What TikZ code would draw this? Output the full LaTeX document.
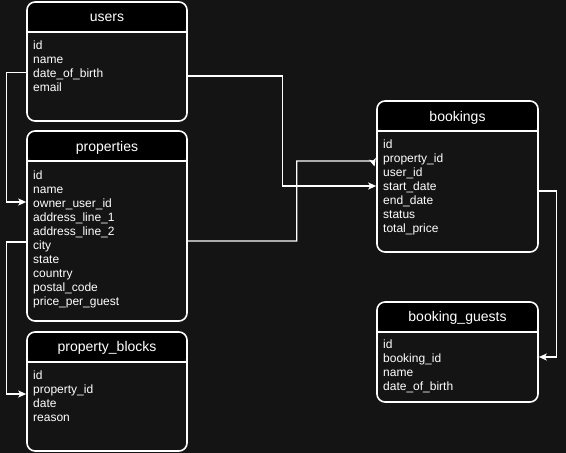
\documentclass[tikz,border=0pt]{standalone}
\usepackage{fontspec}
\setmainfont{Liberation Sans}
\usetikzlibrary{arrows.meta}
\definecolor{bg}{HTML}{141414}
\begin{document}
\begin{tikzpicture}[x=1pt,y=-1pt,
  tbl/.style={draw=white, line width=1.6pt, rounded corners=8pt, fill=bg, inner sep=0pt,
    path picture={
      \fill[black] (path picture bounding box.north west) rectangle ([yshift=-30pt]path picture bounding box.north east);
      \draw[white,line width=1.6pt] ([yshift=-30pt]path picture bounding box.north west) -- ([yshift=-30pt]path picture bounding box.north east);
    }},
  ttl/.style={text=white, inner sep=0pt, font=\fontsize{14}{16}\selectfont},
  row/.style={anchor=west, text=white, inner sep=0pt, text height=10pt, text depth=1pt, font=\fontsize{12}{14}\selectfont},
  conn/.style={draw=white, line width=1.3pt},
  arr/.style={-{Stealth[length=8pt,width=7pt,inset=2pt]}}
]
\path[use as bounding box, fill=bg] (0,0) rectangle (566,453);

% users
\node[tbl, minimum width=160pt, minimum height=119pt] (users) at (107,61.5) {};
\node[ttl] (users-t) at (107,18) {users};
\foreach \t [count=\i] in {id,name,date\_of\_birth,email}
  \node[row] (u\i) at (33,30.5+14*\i) {\t};

% properties
\node[tbl, minimum width=160pt, minimum height=190pt] (properties) at (107,226) {};
\node[ttl] (properties-t) at (107,148) {properties};
\foreach \t [count=\i] in {id,name,owner\_user\_id,address\_line\_1,address\_line\_2,city,state,country,postal\_code,price\_per\_guest}
  \node[row] (p\i) at (33,161+14*\i) {\t};

% property_blocks
\node[tbl, minimum width=160pt, minimum height=119pt] (propblocks) at (107,391.5) {};
\node[ttl] (propblocks-t) at (107,348) {property\_blocks};
\foreach \t [count=\i] in {id,property\_id,date,reason}
  \node[row] (pb\i) at (33,361+14*\i) {\t};

% bookings
\node[tbl, minimum width=161pt, minimum height=151pt] (bookings) at (457.5,176.5) {};
\node[ttl] (bookings-t) at (457.5,118) {bookings};
\foreach \t [count=\i] in {id,property\_id,user\_id,start\_date,end\_date,status,total\_price}
  \node[row] (b\i) at (383,130+14*\i) {\t};

% booking_guests
\node[tbl, minimum width=161pt, minimum height=100pt] (guests) at (457.5,352) {};
\node[ttl] (guests-t) at (457.5,318) {booking\_guests};
\foreach \t [count=\i] in {id,booking\_id,name,date\_of\_birth}
  \node[row] (g\i) at (383,330+14*\i) {\t};

% connectors
\draw[conn,arr] (users.west |- u3) -- ++(-20,0) |- (properties.west |- 0,202);

\coordinate (uexit) at (users.east |- 0,76);
\draw[conn,arr] (uexit) -- ++(95,0) |- (bookings.west |- 0,186);

\coordinate (pexit) at (properties.east |- 0,241);
\coordinate (bpin) at (373,161);
\coordinate (btip) at (374.5,166.5);
\draw[conn,arr] (pexit) -- ++(109,0) |- (bpin) -- (btip);

\draw[conn,arr] (properties.west |- 0,242) -- ++(-20,0) |- (propblocks.west |- 0,394);

\draw[conn,arr] (bookings.east |- 0,191) -- ++(18,0) |- (guests.east |- 0,357);
\end{tikzpicture}
\end{document}
